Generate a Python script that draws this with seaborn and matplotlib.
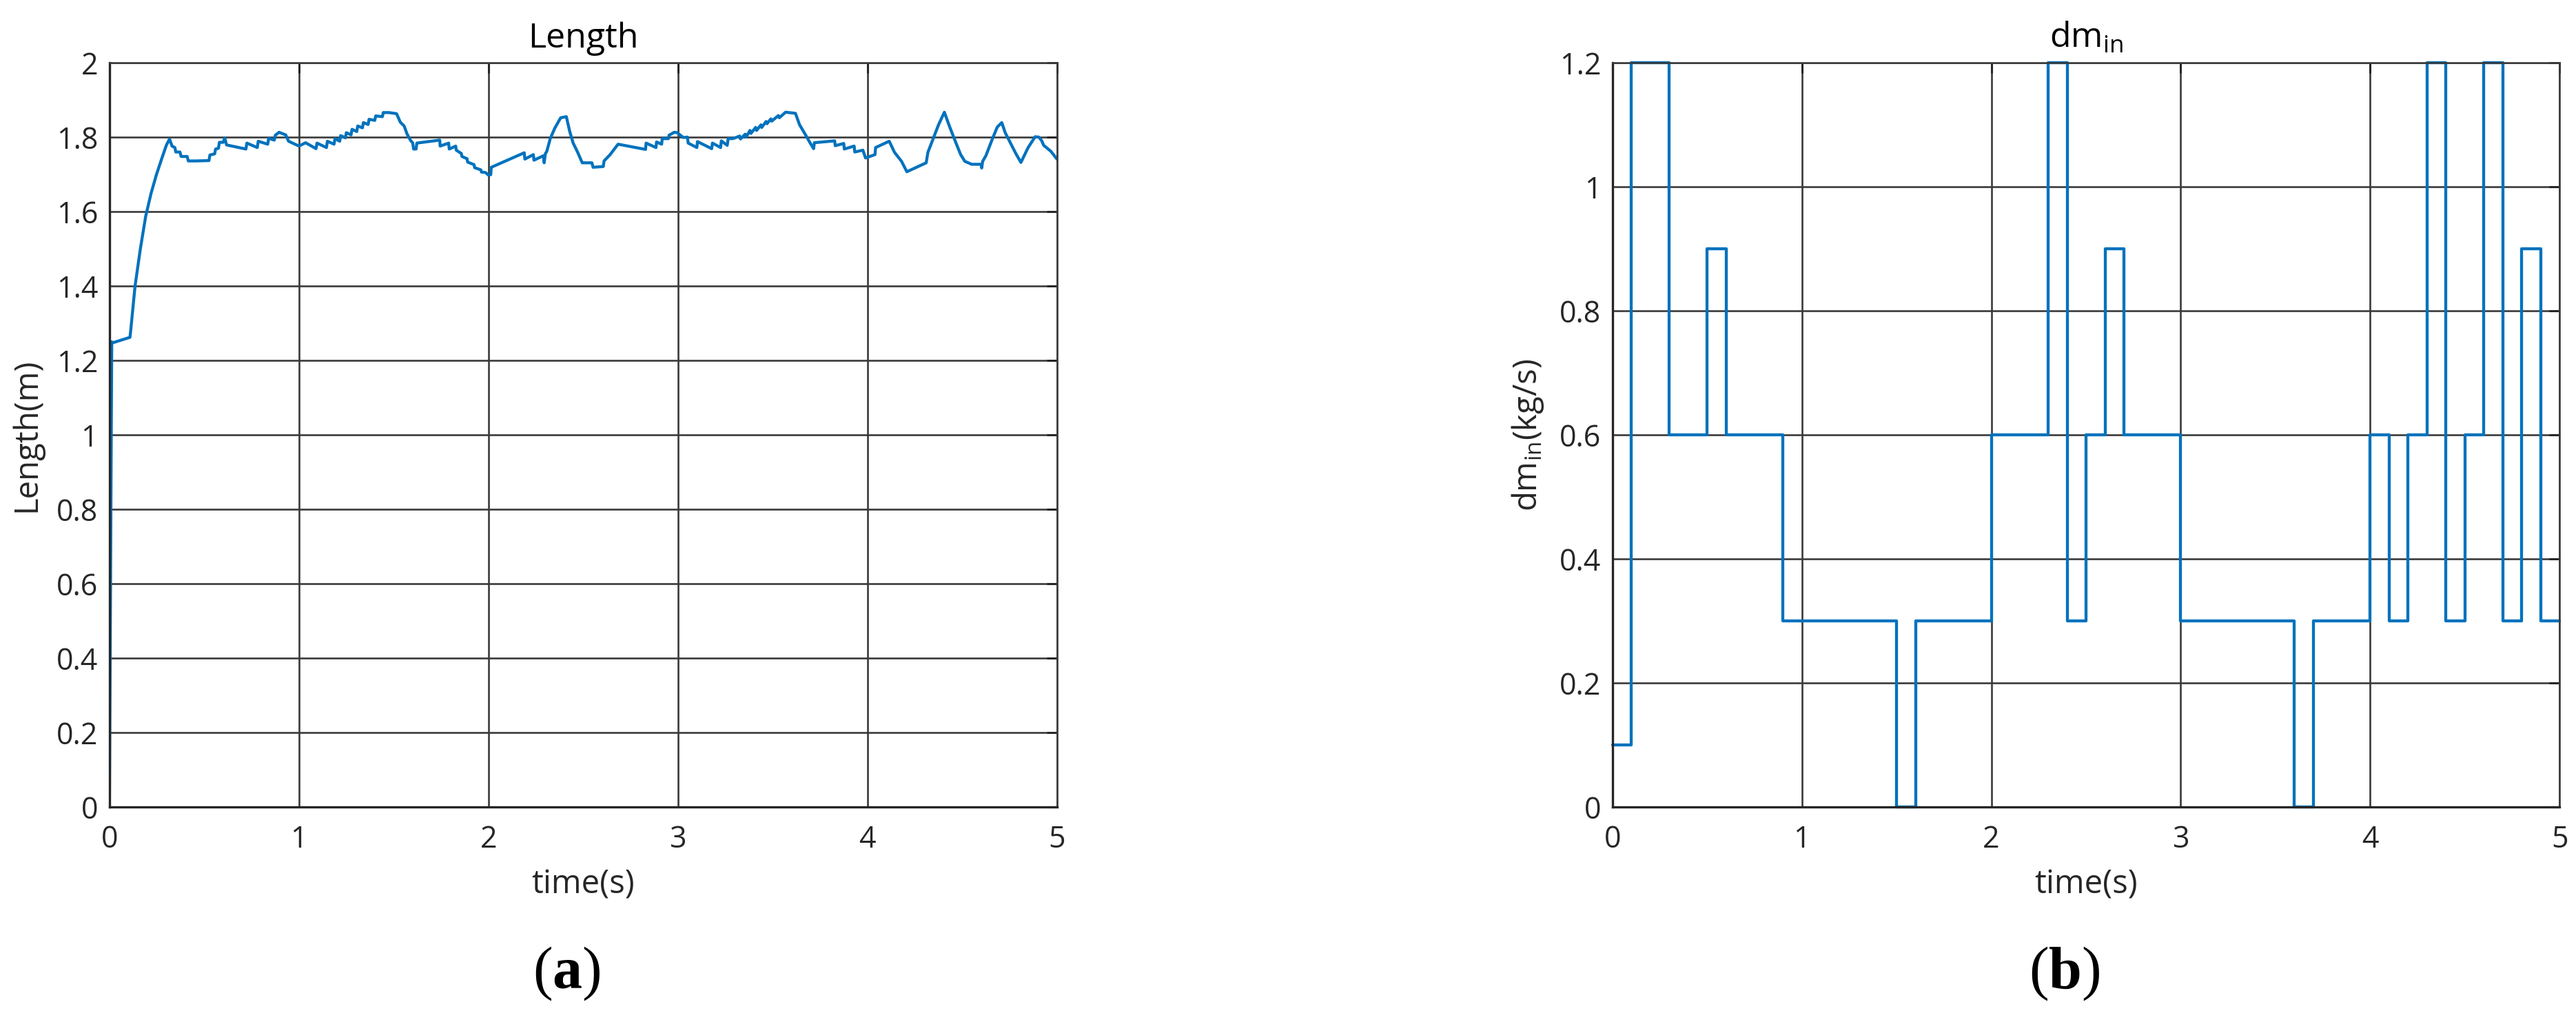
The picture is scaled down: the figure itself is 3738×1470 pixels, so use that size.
import numpy as np
import pandas as pd
import matplotlib
matplotlib.use('Agg')
import matplotlib.pyplot as plt
import seaborn as sns

# --- данные ---
len_t = [0.000, 0.012, 0.015, 0.108, 0.112, 0.135, 0.163, 0.191, 0.219, 0.247,
         0.275, 0.300, 0.317, 0.330, 0.345, 0.350, 0.372, 0.378, 0.410, 0.416,
         0.455, 0.525, 0.530, 0.555, 0.560, 0.575, 0.580, 0.600, 0.608, 0.618,
         0.720, 0.725, 0.780, 0.785, 0.835, 0.840, 0.870, 0.875, 0.895, 0.930,
         0.945, 1.000, 1.035, 1.090, 1.095, 1.145, 1.150, 1.185, 1.190, 1.215,
         1.220, 1.245, 1.250, 1.275, 1.280, 1.305, 1.310, 1.335, 1.340, 1.365,
         1.370, 1.400, 1.405, 1.440, 1.445, 1.475, 1.515, 1.535, 1.555, 1.570,
         1.590, 1.600, 1.605, 1.618, 1.622, 1.743, 1.745, 1.790, 1.793, 1.827,
         1.830, 1.857, 1.860, 1.887, 1.890, 1.924, 1.927, 1.960, 1.963, 1.984,
         2.000, 2.012, 2.015, 2.189, 2.192, 2.237, 2.240, 2.290, 2.294, 2.300,
         2.308, 2.326, 2.350, 2.381, 2.411, 2.429, 2.447, 2.471, 2.495, 2.546,
         2.552, 2.606, 2.610, 2.642, 2.660, 2.684, 2.829, 2.832, 2.884, 2.887,
         2.914, 2.917, 2.950, 2.953, 2.980, 2.996, 3.028, 3.050, 3.054, 3.100,
         3.103, 3.178, 3.182, 3.225, 3.229, 3.260, 3.265, 3.290, 3.326, 3.330,
         3.355, 3.360, 3.380, 3.385, 3.410, 3.415, 3.438, 3.442, 3.465, 3.470,
         3.490, 3.495, 3.530, 3.535, 3.568, 3.620, 3.642, 3.670, 3.698, 3.716,
         3.720, 3.827, 3.830, 3.875, 3.878, 3.930, 3.933, 3.976, 3.990, 4.040,
         4.043, 4.115, 4.143, 4.180, 4.208, 4.310, 4.319, 4.347, 4.375, 4.406,
         4.430, 4.458, 4.492, 4.514, 4.550, 4.600, 4.603, 4.608, 4.625, 4.660,
         4.685, 4.709, 4.727, 4.755, 4.783, 4.810, 4.848, 4.885, 4.905, 4.920,
         4.930, 4.968, 5.000]
len_val = [0.03, 1.25, 1.247, 1.262, 1.28, 1.40, 1.50, 1.587, 1.648, 1.698,
           1.741, 1.778, 1.795, 1.776, 1.772, 1.760, 1.760, 1.748, 1.748, 1.736,
           1.736, 1.737, 1.752, 1.755, 1.768, 1.770, 1.786, 1.786, 1.798, 1.779,
           1.768, 1.784, 1.772, 1.789, 1.781, 1.797, 1.792, 1.805, 1.813, 1.806,
           1.789, 1.776, 1.785, 1.769, 1.784, 1.772, 1.789, 1.781, 1.796, 1.789,
           1.804, 1.798, 1.812, 1.806, 1.821, 1.815, 1.830, 1.825, 1.839, 1.834,
           1.848, 1.845, 1.857, 1.855, 1.866, 1.866, 1.863, 1.840, 1.830, 1.809,
           1.790, 1.785, 1.768, 1.768, 1.784, 1.792, 1.776, 1.784, 1.768, 1.776,
           1.765, 1.756, 1.748, 1.742, 1.733, 1.726, 1.718, 1.712, 1.706, 1.705,
           1.698, 1.699, 1.719, 1.758, 1.741, 1.753, 1.738, 1.750, 1.731, 1.755,
           1.762, 1.796, 1.824, 1.852, 1.855, 1.815, 1.784, 1.759, 1.731, 1.731,
           1.719, 1.721, 1.736, 1.753, 1.765, 1.781, 1.767, 1.784, 1.772, 1.787,
           1.781, 1.796, 1.796, 1.805, 1.813, 1.812, 1.799, 1.800, 1.784, 1.772,
           1.788, 1.769, 1.784, 1.772, 1.790, 1.778, 1.796, 1.796, 1.803, 1.795,
           1.808, 1.800, 1.818, 1.810, 1.826, 1.818, 1.833, 1.826, 1.842, 1.836,
           1.849, 1.843, 1.858, 1.852, 1.867, 1.864, 1.833, 1.809, 1.784, 1.769,
           1.785, 1.790, 1.777, 1.783, 1.768, 1.776, 1.760, 1.765, 1.744, 1.753,
           1.772, 1.789, 1.759, 1.735, 1.707, 1.731, 1.759, 1.796, 1.833, 1.867,
           1.833, 1.796, 1.753, 1.735, 1.727, 1.727, 1.717, 1.735, 1.750, 1.796,
           1.827, 1.839, 1.812, 1.784, 1.756, 1.732, 1.772, 1.801, 1.800, 1.790,
           1.778, 1.762, 1.741]

dm_t = [0.0, 0.1, 0.3, 0.5, 0.6, 0.9, 1.5, 1.6, 2.0, 2.3, 2.4, 2.5, 2.6, 2.7,
        3.0, 3.6, 3.7, 4.0, 4.1, 4.2, 4.3, 4.4, 4.5, 4.6, 4.7, 4.8, 4.9, 5.0]
dm_val = [0.1, 1.2, 0.6, 0.9, 0.6, 0.3, 0.0, 0.3, 0.6, 1.2, 0.3, 0.6, 0.9, 0.6,
          0.3, 0.0, 0.3, 0.6, 0.3, 0.6, 1.2, 0.3, 0.6, 1.2, 0.3, 0.9, 0.3, 0.3]

x_ticks = [0, 1, 2, 3, 4, 5]
len_yticks = [0, 0.2, 0.4, 0.6, 0.8, 1.0, 1.2, 1.4, 1.6, 1.8, 2.0]
len_ylabels = ['0', '0.2', '0.4', '0.6', '0.8', '1', '1.2', '1.4', '1.6', '1.8', '2']
dm_yticks = [0, 0.2, 0.4, 0.6, 0.8, 1.0, 1.2]
dm_ylabels = ['0', '0.2', '0.4', '0.6', '0.8', '1', '1.2']

df_len = pd.DataFrame({'time': len_t, 'Length': len_val})
df_dm = pd.DataFrame({'time': dm_t, 'dm': dm_val})

# --- стиль ---
sns.set_style('white')
plt.rcParams['font.family'] = ['Open Sans', 'DejaVu Sans']
plt.rcParams['mathtext.fontset'] = 'custom'
plt.rcParams['mathtext.rm'] = 'Liberation Serif'
plt.rcParams['mathtext.bf'] = 'Liberation Serif:bold'
plt.rcParams['mathtext.it'] = 'Open Sans'

blue = '#0072BD'
txt = '#262626'
grid_c = '#3a3a3a'

fig = plt.figure(figsize=(37.38, 14.70), dpi=100)
ax1 = fig.add_axes([0.0425, 0.2034, 0.3678, 0.7347])
ax2 = fig.add_axes([0.626, 0.2034, 0.3676, 0.7347])

sns.lineplot(data=df_len, x='time', y='Length', ax=ax1, color=blue,
             linewidth=3.1, estimator=None, sort=False)
sns.lineplot(data=df_dm, x='time', y='dm', ax=ax2, color=blue,
             linewidth=3.1, estimator=None, sort=False,
             drawstyle='steps-post', clip_on=False)


def style_axes(ax, yticks, ylabels, ylim, title, ylabel):
    ax.set_xlim(0, 5)
    ax.set_ylim(*ylim)
    ax.set_xticks(x_ticks)
    ax.set_xticklabels([str(v) for v in x_ticks])
    ax.set_yticks(yticks)
    ax.set_yticklabels(ylabels)
    ax.set_axisbelow(True)
    ax.grid(True, color=grid_c, linewidth=1.9)
    for side in ['left', 'bottom']:
        ax.spines[side].set_color(txt)
        ax.spines[side].set_linewidth(2.4)
    for side in ['top', 'right']:
        ax.spines[side].set_color(grid_c)
        ax.spines[side].set_linewidth(1.9)
    ax.tick_params(axis='both', direction='in', length=11, width=2.2,
                   color=txt, labelcolor=txt, labelsize=31,
                   top=True, right=True)
    ax.tick_params(axis='x', pad=18)
    ax.tick_params(axis='y', pad=12)
    ax.set_title(title, fontsize=36, color='black', pad=16)
    ax.set_xlabel('time(s)', fontsize=34, color=txt, labelpad=14)
    ax.set_ylabel(ylabel, fontsize=34, color=txt, labelpad=14)


style_axes(ax1, len_yticks, len_ylabels, (0, 2), 'Length', 'Length(m)')
style_axes(ax2, dm_yticks, dm_ylabels, (0, 1.2), r'dm$_{in}$', r'dm$_{in}$(kg/s)')

fig.text(0.2199, 0.0395, r'$(\mathbf{a})$', fontsize=62, ha='center', va='center', color='black')
fig.text(0.8015, 0.0395, r'$(\mathbf{b})$', fontsize=62, ha='center', va='center', color='black')

plt.savefig('out.png', dpi=100)
